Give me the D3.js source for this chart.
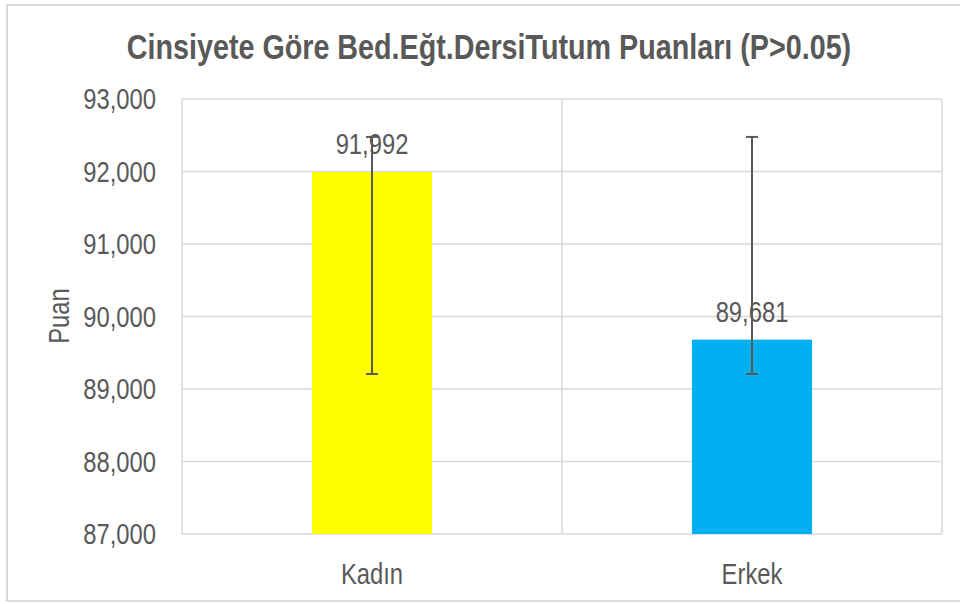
<!DOCTYPE html>
<html>
<head>
<meta charset="utf-8">
<script src="https://cdn.jsdelivr.net/npm/d3@7"></script>
<style>
	body { margin: 0; background: #fff; }
	svg text { font-family: "Liberation Sans", Arial, sans-serif; fill: #595959; }
</style>
</head>
<body>
<div id="chart"></div>
<script>
// chart data
var categories = ["Kadın", "Erkek"];
var values = [91992, 89681];
var labels = ["91,992", "89,681"];
var errLow = [89207, 89207];
var errHigh = [92477, 92477];
var colors = ["#FFFF00", "#00B0F0"];
var yTicks = [87000, 88000, 89000, 90000, 91000, 92000, 93000];
var titleText = "Cinsiyete Göre Bed.Eğt.DersiTutum Puanları (P>0.05)";
var yTitle = "Puan";

var width = 960, height = 604;
var plot = { left: 182, right: 942, top: 99, bottom: 534 };
var narrow = 0.82; // mimic a narrow font face

var svg = d3.select("#chart").append("svg")
	.attr("width", width)
	.attr("height", height);

// outer chart border
svg.append("rect")
	.attr("x", 7).attr("y", 5)
	.attr("width", 960).attr("height", 596)
	.attr("fill", "#fff")
	.attr("stroke", "#D9D9D9")
	.attr("stroke-width", 2);

var y = d3.scaleLinear().domain([87000, 93000]).range([plot.bottom, plot.top]);
var xCat = d3.scaleBand().domain(categories).range([plot.left, plot.right]);
var x = d3.scaleBand().domain(categories).range([plot.left, plot.right])
	.paddingInner(0.684).paddingOuter(0.342);

// horizontal gridlines
svg.append("g").selectAll("line").data(yTicks).enter().append("line")
	.attr("x1", plot.left).attr("x2", plot.right)
	.attr("y1", function(d) { return y(d); })
	.attr("y2", function(d) { return y(d); })
	.attr("stroke", "#D9D9D9").attr("stroke-width", 1.5);

// vertical gridlines at category boundaries
var bounds = [plot.left].concat(categories.map(function(c) { return xCat(c) + xCat.bandwidth(); }));
svg.append("g").selectAll("line").data(bounds).enter().append("line")
	.attr("x1", function(d) { return d; }).attr("x2", function(d) { return d; })
	.attr("y1", plot.top).attr("y2", plot.bottom)
	.attr("stroke", "#D9D9D9").attr("stroke-width", 1.5);

// y tick labels
svg.append("g").selectAll("text").data(yTicks).enter().append("text")
	.attr("x", 156)
	.attr("y", function(d) { return y(d); })
	.attr("dy", "0.35em")
	.attr("text-anchor", "end")
	.attr("font-size", 29)
	.text(function(d) { return d3.format(",")(d); });

// bars
svg.append("g").selectAll("rect").data(values).enter().append("rect")
	.attr("x", function(d, i) { return x(categories[i]); })
	.attr("width", x.bandwidth())
	.attr("y", function(d) { return y(d); })
	.attr("height", function(d) { return plot.bottom - y(d); })
	.attr("fill", function(d, i) { return colors[i]; });

// data labels
svg.append("g").selectAll("text").data(values).enter().append("text")
	.attr("x", function(d, i) { return x(categories[i]) + x.bandwidth() / 2; })
	.attr("y", function(d) { return y(d) - 18; })
	.attr("text-anchor", "middle")
	.attr("font-size", 29)
	.text(function(d, i) { return labels[i]; });

// error bars
var eb = svg.append("g").attr("stroke", "#595959").attr("stroke-width", 2);
categories.forEach(function(c, i) {
	var cx = x(c) + x.bandwidth() / 2;
	eb.append("line").attr("x1", cx).attr("x2", cx).attr("y1", y(errLow[i])).attr("y2", y(errHigh[i]));
	eb.append("line").attr("x1", cx - 6).attr("x2", cx + 6).attr("y1", y(errLow[i])).attr("y2", y(errLow[i]));
	eb.append("line").attr("x1", cx - 6).attr("x2", cx + 6).attr("y1", y(errHigh[i])).attr("y2", y(errHigh[i]));
});

// category labels
svg.append("g").selectAll("text").data(categories).enter().append("text")
	.attr("x", function(d) { return x(d) + x.bandwidth() / 2; })
	.attr("y", 584)
	.attr("text-anchor", "middle")
	.attr("font-size", 29)
	.text(function(d) { return d; });

// axis title
svg.append("text")
	.attr("transform", "translate(69,316) rotate(-90)")
	.attr("text-anchor", "middle")
	.attr("font-size", 29)
	.text(yTitle);

// chart title
svg.append("text")
	.attr("x", 489).attr("y", 59)
	.attr("text-anchor", "middle")
	.attr("font-size", 35)
	.attr("font-weight", "bold")
	.text(titleText);

// squeeze every text horizontally
svg.selectAll("text").each(function() {
	var len = this.getComputedTextLength();
	d3.select(this).attr("textLength", len * narrow).attr("lengthAdjust", "spacingAndGlyphs");
});
</script>
</body>
</html>
